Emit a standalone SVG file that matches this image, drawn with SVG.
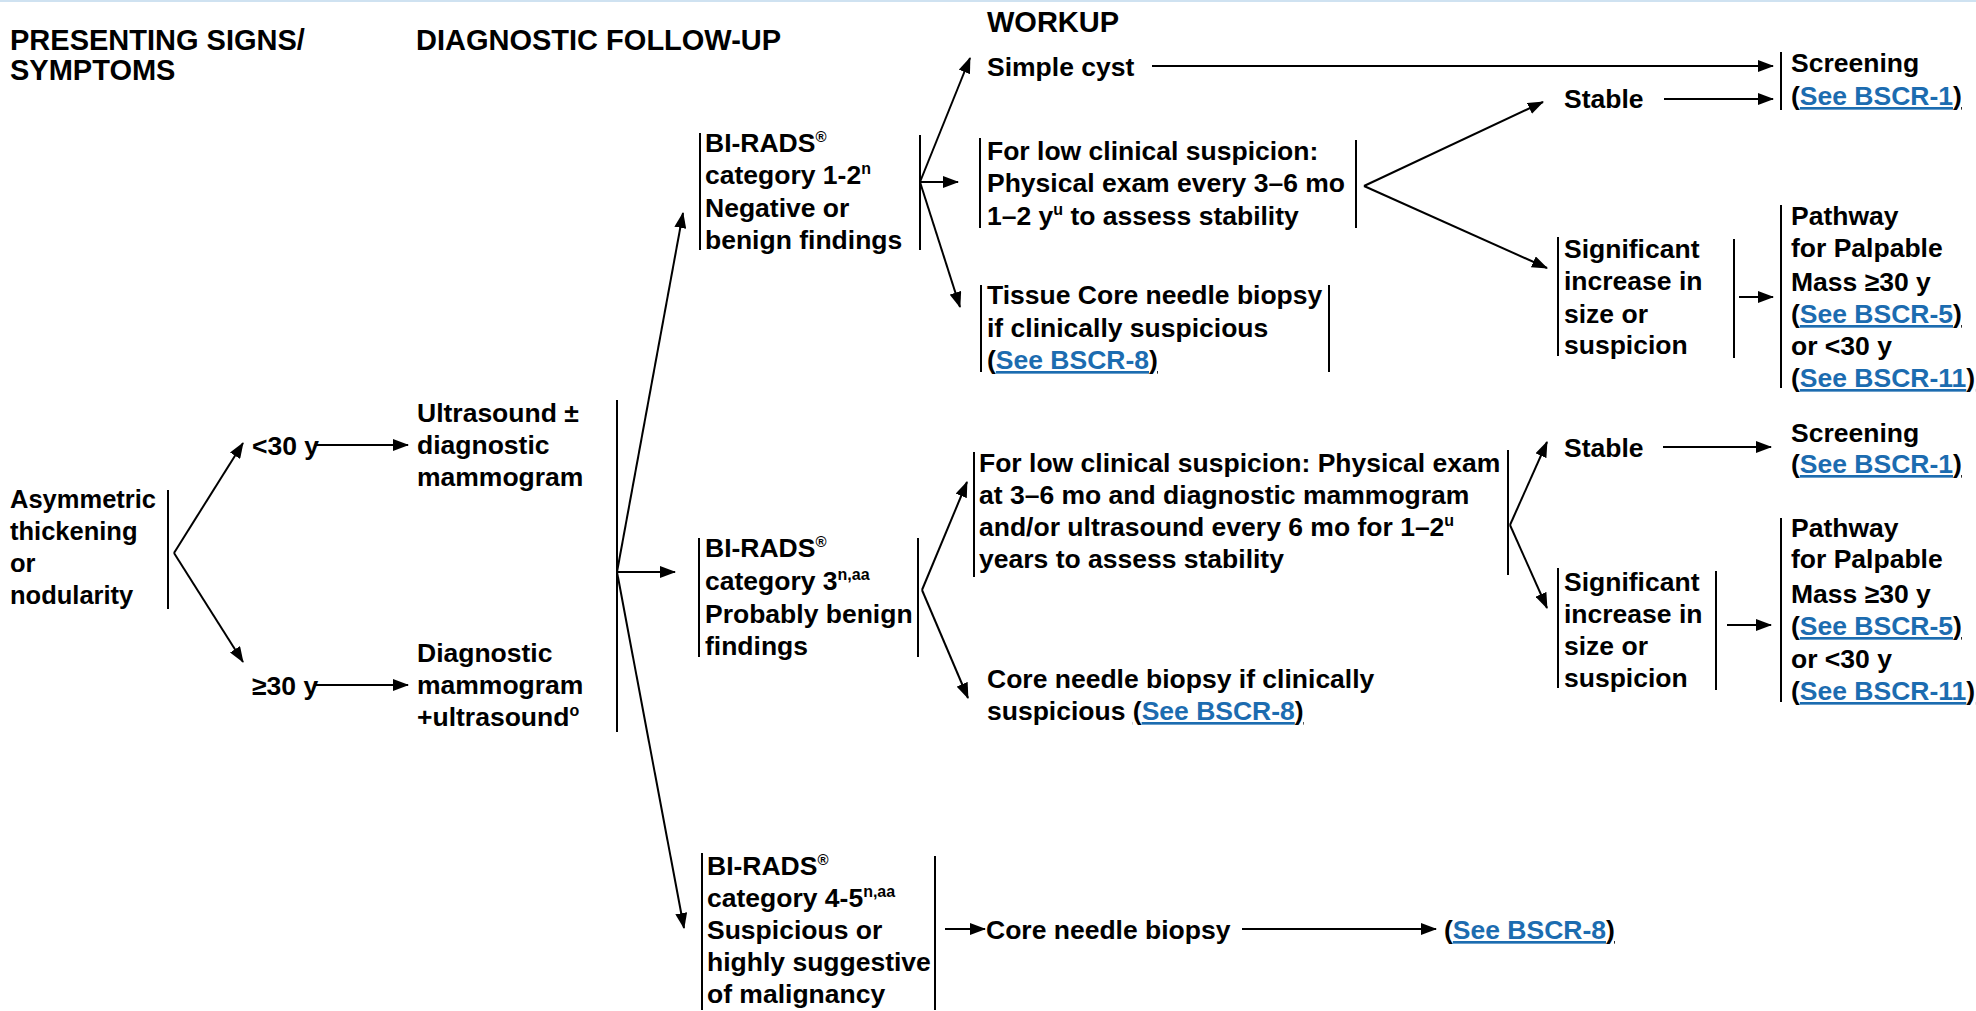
<svg xmlns="http://www.w3.org/2000/svg" width="1976" height="1011" viewBox="0 0 1976 1011">
<style>
text { font-family: "Liberation Sans", Arial, Helvetica, sans-serif; font-weight: bold; font-size: 26.5px; fill: #000; }
.h { font-size: 29px; }
.s24 { font-size: 25.5px; }
.sup { font-size: 16px; }
.reg { font-size: 15px; }
.lk { fill: #1c6cb0; text-decoration: underline; }
.u { text-decoration: underline; }
.bar { stroke: #000; stroke-width: 2; fill: none; }
.ln { stroke: #000; stroke-width: 2; fill: none; marker-end: url(#ah); }
</style>
<defs>
<marker id="ah" markerUnits="userSpaceOnUse" markerWidth="16" markerHeight="12" refX="15" refY="6" orient="auto">
<path d="M0,0 L16,6 L0,12 z" fill="#000"/>
</marker>
</defs>
<rect width="1976" height="1011" fill="#fff"/>
<line x1="0" y1="1" x2="1976" y2="1" stroke="#cfe2f1" stroke-width="2"/>

<g id="headers">
<text class="h" x="10" y="50">PRESENTING SIGNS/</text>
<text class="h" x="10" y="80">SYMPTOMS</text>
<text class="h" x="416" y="50">DIAGNOSTIC FOLLOW-UP</text>
<text class="h" x="987" y="32">WORKUP</text>
</g>

<g id="connectors">
<line class="bar" x1="617" y1="400" x2="617" y2="732"/>
<line class="ln" x1="174" y1="553" x2="243" y2="443"/>
<line class="ln" x1="174" y1="553" x2="243" y2="662"/>
<line class="ln" x1="315" y1="445" x2="408" y2="445"/>
<line class="ln" x1="315" y1="685" x2="408" y2="685"/>
<line class="ln" x1="617" y1="572" x2="683" y2="213"/>
<line class="ln" x1="617" y1="572" x2="675" y2="572"/>
<line class="ln" x1="617" y1="572" x2="684" y2="928"/>
<line class="ln" x1="920" y1="182" x2="970" y2="58"/>
<line class="ln" x1="920" y1="182" x2="958" y2="182"/>
<line class="ln" x1="920" y1="182" x2="960" y2="307"/>
<line class="ln" x1="1152" y1="66" x2="1773" y2="66"/>
<line class="ln" x1="1364" y1="186" x2="1543" y2="102"/>
<line class="ln" x1="1364" y1="186" x2="1547" y2="268"/>
<line class="ln" x1="1664" y1="99" x2="1773" y2="99"/>
<line class="ln" x1="1739" y1="297" x2="1773" y2="297"/>
<line class="ln" x1="922" y1="590" x2="967" y2="482"/>
<line class="ln" x1="922" y1="590" x2="968" y2="698"/>
<line class="ln" x1="1510" y1="525" x2="1547" y2="442"/>
<line class="ln" x1="1510" y1="525" x2="1547" y2="608"/>
<line class="ln" x1="1663" y1="447" x2="1771" y2="447"/>
<line class="ln" x1="1727" y1="625" x2="1771" y2="625"/>
<line class="ln" x1="945" y1="929" x2="985" y2="929"/>
<line class="ln" x1="1242" y1="929" x2="1436" y2="929"/>
</g>

<g id="n_asym">
<text class="s24" x="10" y="508">Asymmetric</text>
<text class="s24" x="10" y="540">thickening</text>
<text class="s24" x="10" y="572">or</text>
<text class="s24" x="10" y="604">nodularity</text>
<line class="bar" x1="168" y1="490" x2="168" y2="609"/>
</g>

<g id="n_lt30"><text x="252" y="455">&lt;30 y</text></g>
<g id="n_ge30"><text x="252" y="695">≥30 y</text></g>

<g id="n_us">
<text x="417" y="422">Ultrasound ±</text>
<text x="417" y="454">diagnostic</text>
<text x="417" y="486">mammogram</text>
</g>

<g id="n_dm">
<text x="417" y="662">Diagnostic</text>
<text x="417" y="694">mammogram</text>
<text x="417" y="726">+ultrasound<tspan class="sup" dy="-10">o</tspan></text>
</g>

<g id="n_br12">
<line class="bar" x1="700" y1="133" x2="700" y2="250"/>
<text x="705" y="152">BI-RADS<tspan class="reg" dy="-10">®</tspan></text>
<text x="705" y="184">category 1-2<tspan class="sup" dy="-10">n</tspan></text>
<text x="705" y="217">Negative or</text>
<text x="705" y="249">benign findings</text>
<line class="bar" x1="920" y1="135" x2="920" y2="250"/>
</g>

<g id="n_simple"><text x="987" y="76">Simple cyst</text></g>

<g id="n_lowclin1">
<line class="bar" x1="980" y1="138" x2="980" y2="228"/>
<text x="987" y="160">For low clinical suspicion:</text>
<text x="987" y="192">Physical exam every 3–6 mo</text>
<text x="987" y="225">1–2 y<tspan class="sup" dy="-10">u</tspan><tspan dy="10"> to assess stability</tspan></text>
<line class="bar" x1="1356" y1="140" x2="1356" y2="228"/>
</g>

<g id="n_tissue">
<line class="bar" x1="981" y1="285" x2="981" y2="372"/>
<text x="987" y="304">Tissue Core needle biopsy</text>
<text x="987" y="337">if clinically suspicious</text>
<text x="987" y="369"><tspan class="u">(</tspan><tspan class="lk">See BSCR-8</tspan><tspan class="u">)</tspan></text>
<line class="bar" x1="1329" y1="285" x2="1329" y2="372"/>
</g>

<g id="n_stable1"><text x="1564" y="108">Stable</text></g>

<g id="n_screen1">
<line class="bar" x1="1781" y1="52" x2="1781" y2="110"/>
<text x="1791" y="72">Screening</text>
<text x="1791" y="105"><tspan class="u">(</tspan><tspan class="lk">See BSCR-1</tspan><tspan class="u">)</tspan></text>
</g>

<g id="n_sig1">
<line class="bar" x1="1558" y1="237" x2="1558" y2="356"/>
<text x="1564" y="258">Significant</text>
<text x="1564" y="290">increase in</text>
<text x="1564" y="323">size or</text>
<text x="1564" y="354">suspicion</text>
<line class="bar" x1="1734" y1="239" x2="1734" y2="358"/>
</g>

<g id="n_path1">
<line class="bar" x1="1781" y1="205" x2="1781" y2="388"/>
<text x="1791" y="225">Pathway</text>
<text x="1791" y="257">for Palpable</text>
<text x="1791" y="291">Mass ≥30 y</text>
<text x="1791" y="323"><tspan class="u">(</tspan><tspan class="lk">See BSCR-5</tspan><tspan class="u">)</tspan></text>
<text x="1791" y="355">or &lt;30 y</text>
<text x="1791" y="387"><tspan class="u">(</tspan><tspan class="lk">See BSCR-11</tspan><tspan class="u">)</tspan></text>
</g>

<g id="n_br3">
<line class="bar" x1="699" y1="538" x2="699" y2="657"/>
<text x="705" y="557">BI-RADS<tspan class="reg" dy="-10">®</tspan></text>
<text x="705" y="590">category 3<tspan class="sup" dy="-10">n,aa</tspan></text>
<text x="705" y="623">Probably benign</text>
<text x="705" y="655">findings</text>
<line class="bar" x1="918" y1="538" x2="918" y2="657"/>
</g>

<g id="n_lowclin2">
<line class="bar" x1="974" y1="452" x2="974" y2="577"/>
<text x="979" y="472">For low clinical suspicion: Physical exam</text>
<text x="979" y="504">at 3–6 mo and diagnostic mammogram</text>
<text x="979" y="536">and/or ultrasound every 6 mo for 1–2<tspan class="sup" dy="-10">u</tspan></text>
<text x="979" y="568">years to assess stability</text>
<line class="bar" x1="1508" y1="450" x2="1508" y2="575"/>
</g>

<g id="n_core2">
<text x="987" y="688">Core needle biopsy if clinically</text>
<text x="987" y="720">suspicious <tspan class="u">(</tspan><tspan class="lk">See BSCR-8</tspan><tspan class="u">)</tspan></text>
</g>

<g id="n_stable2"><text x="1564" y="457">Stable</text></g>

<g id="n_screen2">
<text x="1791" y="442">Screening</text>
<text x="1791" y="473"><tspan class="u">(</tspan><tspan class="lk">See BSCR-1</tspan><tspan class="u">)</tspan></text>
</g>

<g id="n_sig2">
<line class="bar" x1="1558" y1="568" x2="1558" y2="688"/>
<text x="1564" y="591">Significant</text>
<text x="1564" y="623">increase in</text>
<text x="1564" y="655">size or</text>
<text x="1564" y="687">suspicion</text>
<line class="bar" x1="1716" y1="571" x2="1716" y2="690"/>
</g>

<g id="n_path2">
<line class="bar" x1="1781" y1="518" x2="1781" y2="702"/>
<text x="1791" y="537">Pathway</text>
<text x="1791" y="568">for Palpable</text>
<text x="1791" y="603">Mass ≥30 y</text>
<text x="1791" y="635"><tspan class="u">(</tspan><tspan class="lk">See BSCR-5</tspan><tspan class="u">)</tspan></text>
<text x="1791" y="668">or &lt;30 y</text>
<text x="1791" y="700"><tspan class="u">(</tspan><tspan class="lk">See BSCR-11</tspan><tspan class="u">)</tspan></text>
</g>

<g id="n_br45">
<line class="bar" x1="702" y1="853" x2="702" y2="1010"/>
<text x="707" y="875">BI-RADS<tspan class="reg" dy="-10">®</tspan></text>
<text x="707" y="907">category 4-5<tspan class="sup" dy="-10">n,aa</tspan></text>
<text x="707" y="939">Suspicious or</text>
<text x="707" y="971">highly suggestive</text>
<text x="707" y="1003">of malignancy</text>
<line class="bar" x1="935" y1="856" x2="935" y2="1010"/>
</g>

<g id="n_core3"><text x="986" y="939">Core needle biopsy</text></g>

<g id="n_see8"><text x="1444" y="939"><tspan class="u">(</tspan><tspan class="lk">See BSCR-8</tspan><tspan class="u">)</tspan></text></g>
</svg>
